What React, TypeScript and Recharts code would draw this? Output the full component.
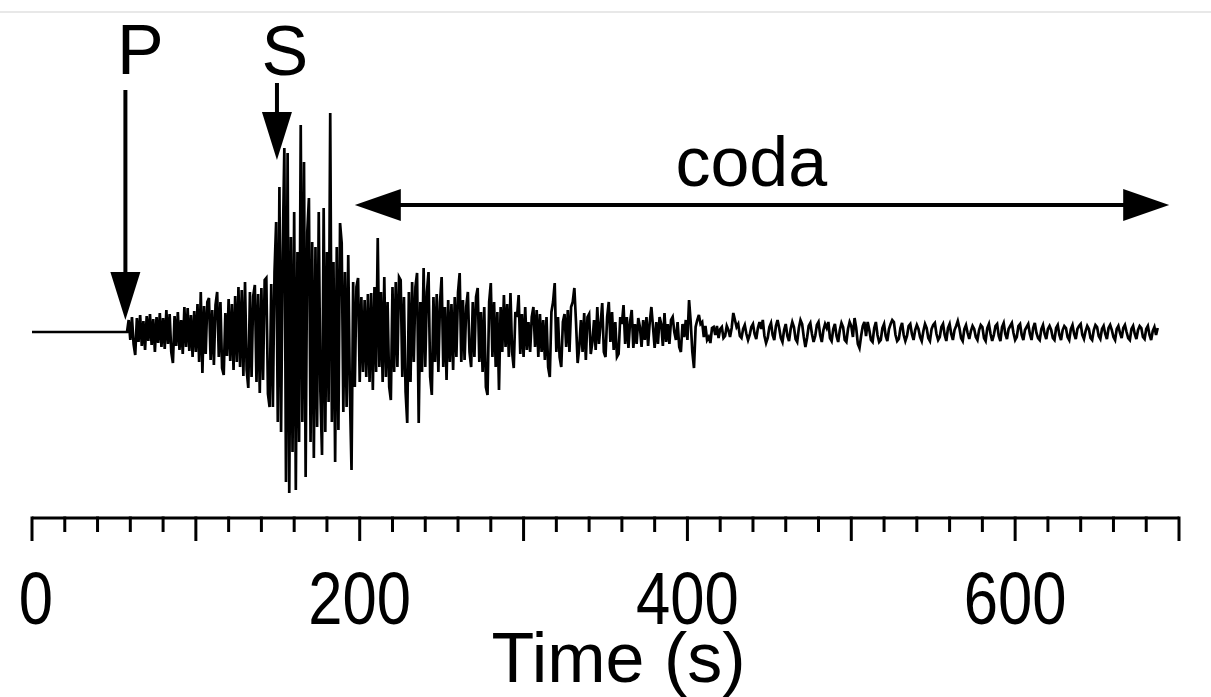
import { LineChart, Line, XAxis, YAxis, ReferenceLine, ReferenceDot } from 'recharts'

// Seismogram trace, sampled every 1 s, amplitude in trace units (up = positive)
const PRE_EVENT_START = 0
const SAMPLE_STEP = 1

const P_WAVE_START = 58
const pWave = [
  0, 12, -8, 15, -12, -23, 14, -10, 17, -14,
  11, -18, 16, -9, 18, -13, 13, -20, 15, -11,
  19, -15, 14, -17, 22, -12, 18, -20, -31, 16,
  -14, 20, -18, 12, -22, 25, -15, 24, -19, 17,
  -25, 21, -20, 28, -30, 40, -41, 26, -22, 30,
  34, -28, 22, -33, 27, 40, -25, 30, -36, -43,
  19, -24, 33, -29, 28, -38, 36, -30, 45, -35,
  42, -44, 50, -38, -56, 40, -45, 36, 47, -50,
  38, -61, 44, -48, 52, 54, -62, -75, 48, -75,
  60,
]

const S_WAVE_START = 149
const sWave = [
  110, -90, 145, -100, 80, 184, -150, 179, -161, 95,
  -120, 120, -158, 80, -110, 207, -90, 170, -145, 100,
  134, -110, 90, -126, 85, -95, 120, -60, -123, 124,
  -100, 80, -70, 219, -90, 70, -130, 85, -98, 109,
  89, -80, 60, -75, 77, -60, -138, 50, -55, 45,
  54, -50,
]

const EARLY_CODA_START = 201
const earlyCoda = [
  35, -40, 32, -45, 38, -50, 39, -58, 45, -40,
  94, -35, 40, -50, 55, -45, 30, -55, -68, 45,
  -40, 50, -35, 55, 52, -45, 35, -60, -91, 40,
  -50, 50, -30, 45, 59, -91, 30, -40, 64, -35,
  40, 60, -45, -63, 35, -30, 38, -40, 30, 55,
  -35, 25, -48, 32, -30, 28, -38, 35, -25, 40,
  59, -30, 32, -28, 25, 40, -20, -35, 30, -25,
  35, 44, -30, 20, -40, 25, -55, -63, 30, 49,
  -25, 30, -35, 20, -58, 25, -20, 37, -15, 28,
  -25, 39, -20, -36, 20, 15, 37, -22, 18, -25,
  25, -18, 10, -20, 15, 25, -15, 22, -25, 18,
  -20, 12, -28, 15, -35, -45, 20, 30, 49, -20,
  15, -25, -35, 10, 18, -15, 22, -20, 25, 30,
]

const MID_CODA_START = 331
const midCoda = [
  44, 10, -31, -15, 12, -20, 19, -28, 15, 18,
  -22, -10, 12, -18, 25, -12, 8, 29, -20, -25,
  15, 30, -10, 20, -18, 10, -25, -22, 15, 8,
  27, -12, 15, -16, 10, 22, -16, 8, -12, 14,
  5, -15, 12, -8, 15, -14, 10, 25, 5, -16,
  10, -12, 15, 8, -14, 19, -10, 8, -12, 12,
  15, 0, -8, 10, -15, -20, 8, -5, 12, -8,
  32, 10, -20, -36, 5, 12, 17, 8, 10, -5,
  6, -8, -5, -11, 4, 5, -3, 6, -6, 3,
]

const LATE_CODA_START = 421
const lateCoda = [
  5, -6, -4, 6, 2, -5, 4, 19, 12, 5,
  8, -4, -6, 3, 7, -2, -8, -3, 5, 8,
  -2, -7, 4, 10, 3, 12, -4, -11, -6, 5,
  9, -3, -8, 6, 12, 4, -6, -10, 2, 8,
  -4, -9, 3, 10, 5, -7, -10, 4, 12, 8,
  -5, -15, -6, 6, 9, -2, -10, -4, 7, 10,
  -3, -10, 2, 8, 4, 10, -6, -9, 3, 8,
  -4, -10, 2, 9, 5, -8, -10, 3, 10, 6,
  -5, 14, 4, -12, -16, -4, 6, 10, -4, 10,
  2, -8, -10, 4, 10, -3, -10, -8, 4, 8,
  -4, -9, 3, 8, 12, 10, -3, -9, -7, 4,
  9, -3, -9, -4, 6, 8, -2, -8, 2, 7,
  3, -5, -9, 1, 8, 4, -6, -9, 3, 7,
  9, -2, -8, -5, 5, 8, -3, -9, 4, 8,
  -2, -8, 2, 6, 11, 4, -6, -9, 3, 7,
  -1, -7, 1, 6, 3, -5, -8, 2, 7, 5,
  -6, -9, 4, 8, -2, -9, -3, 6, 8, -4,
  -9, 5, 9, -2, -7, 3, 6, 9, -1, -8,
  -5, 6, 8, -3, -8, 2, 5, 8, -2, -8,
  4, 9, -1, -6, -8, 3, 7, -2, -7, 3,
  6, 2, -6, -8, 4, 7, -3, -8, 2, 6,
  4, -5, -8, 3, 7, -2, -7, 3, 6, 8,
  -3, -7, 1, 6, 3, -6, -8, 2, 7, 5,
  -4, -7, 3, 6, -2, -7, 4, 7, 2, -5,
  -8, 3, 6, -1, -6, 4, 7, 0, -6, -8,
  3, 6, -2, -7, 2, 6, 4, -5, -7, 3,
  6, -3, -8, 1, 5, -3, 4,
]

const X_TICKS = [
  0, 20, 40, 60, 80, 100, 120, 140, 160, 180, 200, 220, 240, 260, 280, 300, 320, 340,
  360, 380, 400, 420, 440, 460, 480, 500, 520, 540, 560, 580, 600, 620, 640, 660, 680, 700,
]
const X_LABELS = [0, 200, 400, 600]

// phase picks (s) and the coda window (s)
const P_TIME = 57
const S_TIME = 149.5
const CODA_WINDOW = [197, 694]
const CODA_LABEL_TIME = 439

const segments = [
  { start: P_WAVE_START, values: pWave },
  { start: S_WAVE_START, values: sWave },
  { start: EARLY_CODA_START, values: earlyCoda },
  { start: MID_CODA_START, values: midCoda },
  { start: LATE_CODA_START, values: lateCoda },
]

const trace = [
  { t: PRE_EVENT_START, v: 0 },
  ...segments.flatMap((s) => s.values.map((v, i) => ({ t: s.start + i * SAMPLE_STEP, v }))),
]

const FONT = '"Liberation Sans", Arial, Helvetica, sans-serif'

function TimeTick({ x, y, payload }: any) {
  const value = payload.value
  const major = value % 100 === 0
  return (
    <g>
      <line x1={x} x2={x} y1={y - 1.5} y2={y + (major ? 23 : 14)} stroke="#000" strokeWidth={3} />
      {X_LABELS.includes(value) && (
        <text
          transform={`translate(${x + (value === 0 ? 4 : 0)},${y + 106}) scale(0.88,1.06)`}
          textAnchor="middle"
          fontSize={70}
          fontFamily={FONT}
          fill="#000"
        >
          {value}
        </text>
      )}
    </g>
  )
}

function TimeLabel({ viewBox }: any) {
  const vb = viewBox || { x: 32, y: 518, width: 1147 }
  return (
    <text x={vb.x + vb.width / 2 + 13} y={vb.y + 164} textAnchor="middle" fontSize={70} fontFamily={FONT} fill="#000">
      Time (s)
    </text>
  )
}

const DownHead = ({ cx, cy }: any) => (
  <polygon points={`${cx - 15},${cy - 48} ${cx + 15},${cy - 48} ${cx},${cy}`} fill="#000" />
)
const LeftHead = ({ cx, cy }: any) => (
  <polygon points={`${cx},${cy} ${cx + 46},${cy - 16} ${cx + 46},${cy + 16}`} fill="#000" />
)
const RightHead = ({ cx, cy }: any) => (
  <polygon points={`${cx},${cy} ${cx - 46},${cy - 16} ${cx - 46},${cy + 16}`} fill="#000" />
)
const textShape = (label: string, dx: number) => ({ cx, cy }: any) => (
  <text x={cx + dx} y={cy} textAnchor="middle" fontSize={70} fontFamily={FONT} fill="#000">
    {label}
  </text>
)

export default function App() {
  return (
    <div style={{ position: 'absolute', left: 0, top: 0, width: 1211, height: 697, background: '#fff' }}>
      <div style={{ position: 'absolute', left: 0, top: 11, width: 1211, height: 2, background: '#e8e8e8' }} />
      <LineChart width={1211} height={697} data={trace} margin={{ top: 10, right: 32, left: 32, bottom: 79 }}>
        <XAxis
          dataKey="t"
          type="number"
          domain={[0, 700]}
          ticks={X_TICKS}
          interval={0}
          height={100}
          tickSize={0}
          tickMargin={0}
          tickLine={false}
          axisLine={{ stroke: '#000', strokeWidth: 3 }}
          tick={<TimeTick />}
          label={<TimeLabel />}
        />
        <YAxis type="number" domain={[-186, 322]} hide />
        <Line
          dataKey="v"
          type="linear"
          stroke="#000"
          strokeWidth={2.7}
          dot={false}
          isAnimationActive={false}
        />
        {/* P pick */}
        <ReferenceLine segment={[{ x: P_TIME, y: 242 }, { x: P_TIME, y: 60 }]} stroke="#000" strokeWidth={4} />
        <ReferenceDot x={P_TIME} y={12} shape={<DownHead />} />
        <ReferenceDot x={P_TIME} y={258} shape={textShape('P', 15)} />
        {/* S pick */}
        <ReferenceLine segment={[{ x: S_TIME, y: 249 }, { x: S_TIME, y: 220 }]} stroke="#000" strokeWidth={4} />
        <ReferenceDot x={S_TIME} y={172} shape={<DownHead />} />
        <ReferenceDot x={S_TIME} y={257} shape={textShape('S', 8)} />
        {/* coda window */}
        <ReferenceLine
          segment={[{ x: CODA_WINDOW[0] + 10, y: 127 }, { x: CODA_WINDOW[1] - 10, y: 127 }]}
          stroke="#000"
          strokeWidth={4}
        />
        <ReferenceDot x={CODA_WINDOW[0]} y={127} shape={<LeftHead />} />
        <ReferenceDot x={CODA_WINDOW[1]} y={127} shape={<RightHead />} />
        <ReferenceDot x={CODA_LABEL_TIME} y={146} shape={textShape('coda', 0)} />
      </LineChart>
    </div>
  )
}
